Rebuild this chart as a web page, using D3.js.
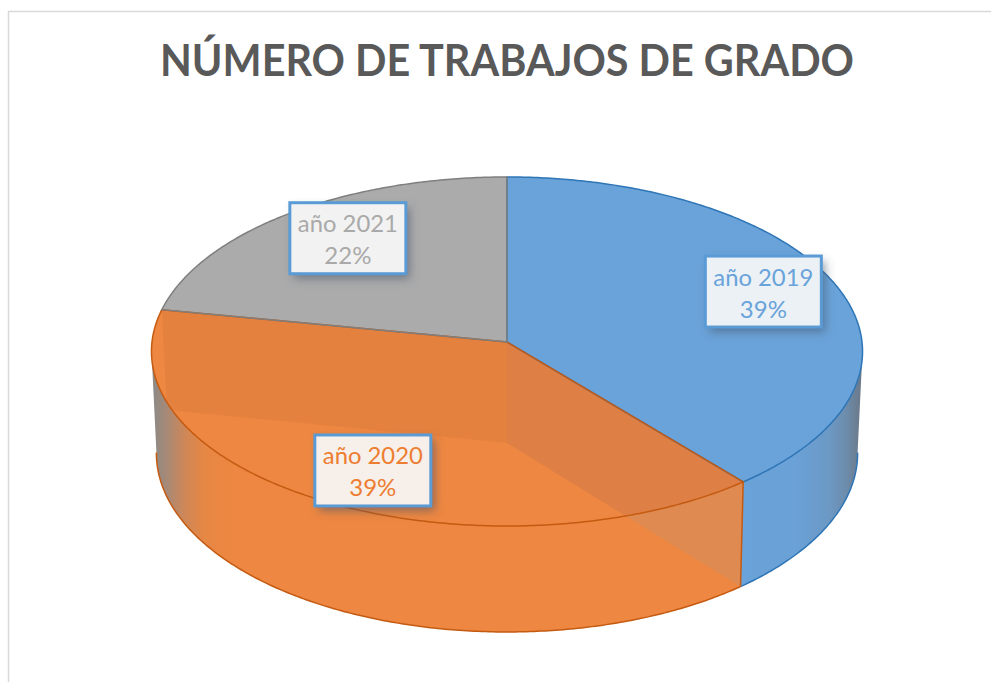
<!DOCTYPE html>
<html>
<head>
<meta charset="utf-8">
<style>
  html, body { margin: 0; padding: 0; background: #fff; overflow: hidden; }
  svg { display: block; }
  text { font-family: Lato, "Open Sans", sans-serif; }
</style>
<script src="https://cdn.jsdelivr.net/npm/d3@7"></script>
</head>
<body>
<svg id="chart" width="991" height="682"></svg>
<script>
const chartTitle = 'NÚMERO DE TRABAJOS DE GRADO';
const categories = ['año 2019', 'año 2020', 'año 2021'];
const percents = [39, 39, 22];

// the layout of the 3D pie
const cs = {
  palette: {
    fill: ['#6aa3d9', '#ee8741', '#ababab'],
    stroke: ['#2e75b6', '#c55a11', '#7f7f7f'],
    text: ['#69a3db', '#ed7d31', '#a9a9a9'],
  },
  top: { cx: 507, cy: 342, rx: 355, ry: 174, tilt: 0.0544 },
  bottom: { cx: 507, cy: 443, rx: 350, ry: 178, tilt: 0.058 },
  label: {
    radius: 0.8,
    width: 116,
    height: 71,
    nudge: [[-7, -4], [16, 4], [16, 0]],
  },
};

const svg = d3.select('#chart');
const defs = svg.append('defs');

const slices = d3.pie().sort(null).value(d => d)(percents);
const radial = d3.line();

// projects a pie angle on one of the two tilted discs
const project = (disc, angle, r = 1) => {
  const u = -Math.cos(angle) * r;
  const k = 1 - disc.tilt * u;
  return [disc.cx + disc.rx * Math.sin(angle) * r / k, disc.cy + disc.ry * u / k];
};

const arcPoints = (disc, from, to) => {
  const n = Math.ceil(Math.abs(to - from) / 0.01);
  return d3.range(n + 1).map(i => project(disc, from + (to - from) * i / n));
};

const sector = (disc, s) => radial([[disc.cx, disc.cy], ...arcPoints(disc, s.startAngle, s.endAngle)]) + 'Z';
const outerWall = (from, to) => radial([
  ...arcPoints(cs.top, from, to),
  ...arcPoints(cs.bottom, to, from),
]) + 'Z';
const innerWall = angle => radial([
  [cs.top.cx, cs.top.cy],
  project(cs.top, angle),
  project(cs.bottom, angle),
  [cs.bottom.cx, cs.bottom.cy],
]) + 'Z';

const sideGradient = (id, x1, x2, stops) => {
  const g = defs.append('linearGradient').attr('id', id)
    .attr('gradientUnits', 'userSpaceOnUse')
    .attr('x1', x1).attr('x2', x2).attr('y1', 0).attr('y2', 0);
  stops.forEach(s => g.append('stop').attr('offset', s[0]).attr('stop-color', s[1]));
};
sideGradient('wallBlue', 745, 858, [[0, '#6aa3d9'], [0.45, '#6aa1d6'], [0.75, '#6c98c4'], [0.9, '#6d8cab'], [1, '#6b7c8f']]);
sideGradient('wallOrange', 155, 240, [[0, '#8f8a85'], [0.15, '#a98975'], [0.35, '#cf8757'], [0.6, '#e78744'], [1, '#ee8741']]);

const shadow = defs.append('filter').attr('id', 'labelShadow')
  .attr('x', '-20%').attr('y', '-20%').attr('width', '150%').attr('height', '150%');
shadow.append('feGaussianBlur').attr('stdDeviation', 5);

// chart frame, cut by the right and bottom of the picture
svg.append('rect')
  .attr('x', 8.5).attr('y', 11.5).attr('width', 1100).attr('height', 900)
  .attr('fill', 'none').attr('stroke', '#d9d9d9').attr('stroke-width', 1.5);

svg.append('text')
  .attr('x', 507).attr('y', 76)
  .attr('text-anchor', 'middle')
  .attr('font-size', 44).attr('font-weight', 700)
  .attr('fill', '#595959')
  .attr('textLength', 694).attr('lengthAdjust', 'spacingAndGlyphs')
  .text(chartTitle);

const blue = slices[0];
const orange = slices[1];
const gray = slices[2];
const rightEdge = Math.PI * 0.517;
const leftEdge = Math.PI * 1.483;

// outer walls
svg.append('path').attr('d', outerWall(rightEdge, blue.endAngle))
  .attr('fill', 'url(#wallBlue)').attr('stroke', 'none');
svg.append('path').attr('d', radial(arcPoints(cs.bottom, rightEdge, blue.endAngle)))
  .attr('fill', 'none').attr('stroke', cs.palette.stroke[0]).attr('stroke-width', 1.5);
svg.append('path').attr('d', outerWall(orange.startAngle, leftEdge))
  .attr('fill', 'url(#wallOrange)').attr('stroke', 'none');
svg.append('path').attr('d', radial(arcPoints(cs.bottom, orange.startAngle, leftEdge)))
  .attr('fill', 'none').attr('stroke', cs.palette.stroke[1]).attr('stroke-width', 1.5);

// top faces
svg.append('path').attr('d', sector(cs.top, blue)).attr('fill', cs.palette.fill[0]);
svg.append('path').attr('d', sector(cs.top, gray)).attr('fill', cs.palette.fill[2]);
svg.append('path').attr('d', sector(cs.top, orange)).attr('fill', cs.palette.fill[1]);

// inner walls seen through the orange slice
defs.append('clipPath').attr('id', 'orangeTop').append('path').attr('d', sector(cs.top, orange));
defs.append('clipPath').attr('id', 'orangeBody').append('path')
  .attr('d', sector(cs.top, orange) + outerWall(orange.startAngle, leftEdge));

svg.append('path').attr('d', innerWall(orange.startAngle))
  .attr('clip-path', 'url(#orangeBody)')
  .attr('fill', '#8fa0b0').attr('fill-opacity', 0.15);
svg.append('path').attr('d', innerWall(orange.startAngle))
  .attr('clip-path', 'url(#orangeTop)')
  .attr('fill', '#dc3c00').attr('fill-opacity', 0.13);
svg.append('path').attr('d', innerWall(orange.endAngle))
  .attr('clip-path', 'url(#orangeTop)')
  .attr('fill', '#000').attr('fill-opacity', 0.04);

// edges of the top faces
svg.append('path').attr('d', sector(cs.top, blue))
  .attr('fill', 'none').attr('stroke', cs.palette.stroke[0]).attr('stroke-width', 1.5);
svg.append('path').attr('d', sector(cs.top, orange))
  .attr('fill', 'none').attr('stroke', cs.palette.stroke[1]).attr('stroke-width', 1.5);
svg.append('path').attr('d', sector(cs.top, gray))
  .attr('fill', 'none').attr('stroke', cs.palette.stroke[2]).attr('stroke-width', 1.5);
svg.append('path')
  .attr('d', radial([project(cs.top, orange.startAngle), project(cs.bottom, orange.startAngle)]))
  .attr('fill', 'none').attr('stroke', cs.palette.stroke[1]).attr('stroke-width', 1.5);

// data labels
slices.forEach((s, i) => {
  const mid = (s.startAngle + s.endAngle) / 2;
  const p = project(cs.top, mid, cs.label.radius);
  const x = p[0] + cs.label.nudge[i][0];
  const y = p[1] + cs.label.nudge[i][1];
  const g = svg.append('g').attr('transform', `translate(${x},${y})`);
  g.append('rect')
    .attr('x', -cs.label.width / 2 + 4).attr('y', -cs.label.height / 2 + 5)
    .attr('width', cs.label.width).attr('height', cs.label.height)
    .attr('fill', '#44546a').attr('fill-opacity', 0.55)
    .attr('filter', 'url(#labelShadow)');
  // the fill sits on a copy of the slice colour so the shadow does not show through it
  g.append('rect')
    .attr('x', -cs.label.width / 2).attr('y', -cs.label.height / 2)
    .attr('width', cs.label.width).attr('height', cs.label.height)
    .attr('fill', cs.palette.fill[i]);
  g.append('rect')
    .attr('x', -cs.label.width / 2).attr('y', -cs.label.height / 2)
    .attr('width', cs.label.width).attr('height', cs.label.height)
    .attr('fill', '#f7f7f7').attr('fill-opacity', 0.92)
    .attr('stroke', '#5b9bd5').attr('stroke-width', 3);
  g.append('text').attr('text-anchor', 'middle').attr('y', -6)
    .attr('font-size', 24).attr('fill', cs.palette.text[i])
    .attr('textLength', 100).attr('lengthAdjust', 'spacingAndGlyphs')
    .text(categories[i]);
  g.append('text').attr('text-anchor', 'middle').attr('y', 26)
    .attr('font-size', 24).attr('fill', cs.palette.text[i])
    .text(`${percents[i]}%`);
});
</script>
</body>
</html>
